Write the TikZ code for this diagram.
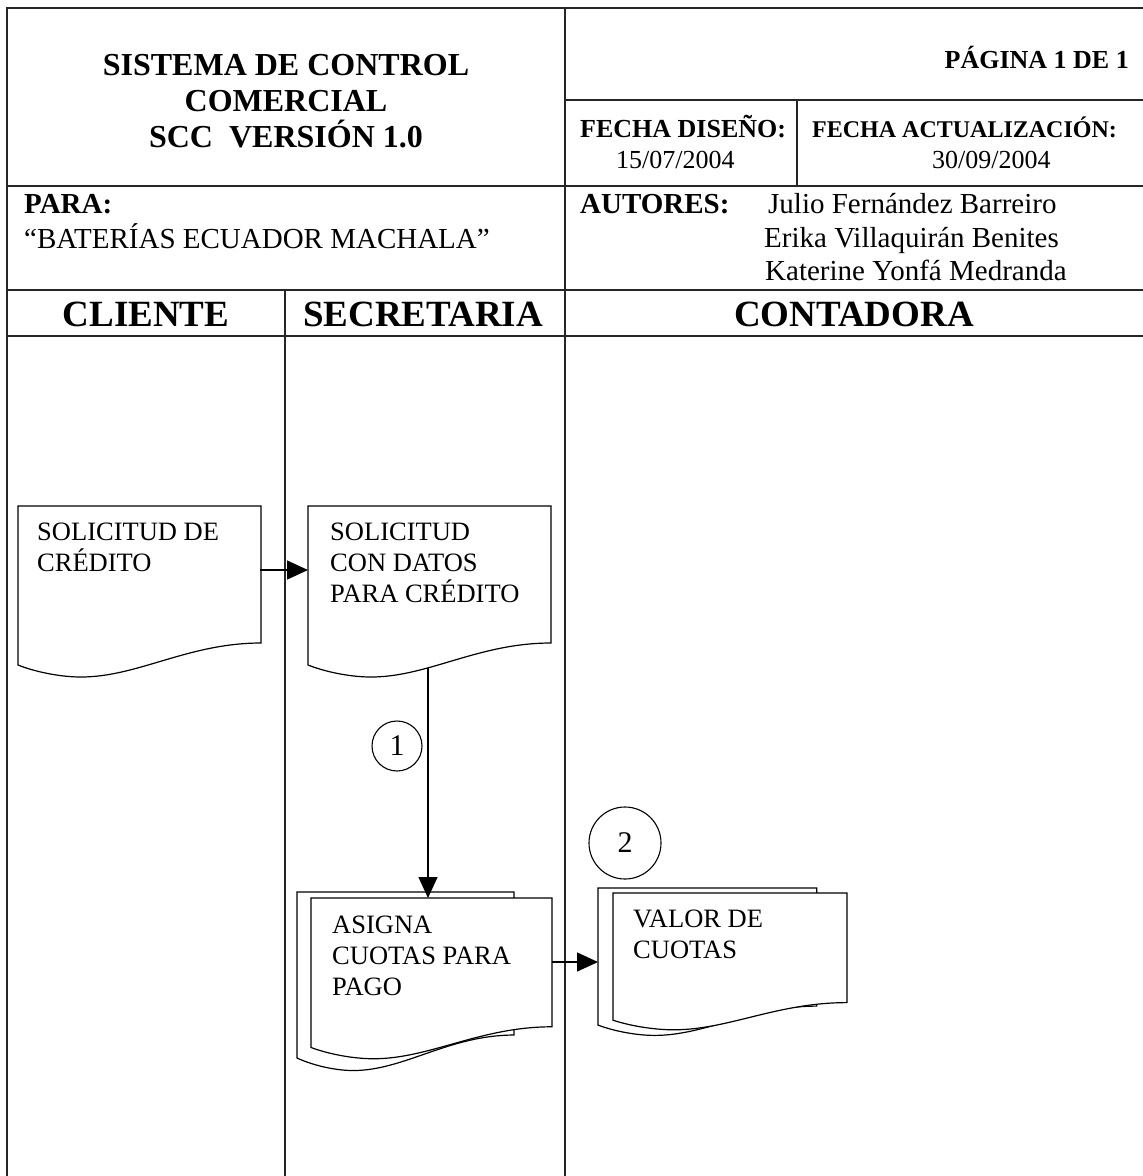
\documentclass[tikz,border=0pt]{standalone}
\usepackage{fontspec}
\setmainfont{Liberation Serif}
\usetikzlibrary{arrows.meta}
\newcommand\docshape[1]{\draw[doc,#1] (0,0) -- (243,0) -- (243,137) .. controls (170,137) and (120,171) .. (63,171) .. controls (40,171) and (15,165) .. (0,159) -- cycle;}
\begin{document}
\begin{tikzpicture}[x=1pt,y=-1pt,
  frame/.style={line width=1.1pt, draw=black!85},
  doc/.style={line width=1.2pt, fill=white, draw=black},
  flow/.style={line width=1.3pt, draw=black, -{Triangle[length=21pt,width=19pt]}},
  txt/.style={inner sep=0pt, anchor=base west},
  ttl/.style={inner sep=0pt, anchor=base, font=\fontsize{32}{36}\selectfont\bfseries},
  lane/.style={inner sep=0pt, anchor=base, font=\fontsize{37}{40}\selectfont\bfseries},
  hdb/.style={txt, font=\fontsize{26}{30}\selectfont\bfseries},
  hdr/.style={txt, font=\fontsize{26}{30}\selectfont},
  big/.style={txt, font=\fontsize{29}{33}\selectfont},
  bigb/.style={txt, font=\fontsize{29}{33}\selectfont\bfseries},
  boxtxt/.style={txt, font=\fontsize{26.5}{31}\selectfont},
  num/.style={circle, draw=black, line width=1.1pt, inner sep=0pt, font=\fontsize{30}{30}\selectfont}]
\fill[white] (0,0) rectangle (1143,1176);
\useasboundingbox (0,0) rectangle (1143,1176);
% frame
\draw[frame] (1143,8) -- (7,8) -- (7,1176);
\draw[frame] (565,8) -- (565,1176);
\draw[frame] (565,100) -- (1143,100);
\draw[frame] (797,100) -- (797,186);
\draw[frame] (7,186) -- (1143,186);
\draw[frame] (7,290) -- (1143,290);
\draw[frame] (7,336) -- (1143,336);
\draw[frame] (285,290) -- (285,1176);
% header texts
\node[ttl] (t1) at (286,75) {SISTEMA DE CONTROL};
\node[ttl] (t2) at (286,111) {COMERCIAL};
\node[ttl] (t3) at (286,147) {SCC\ \ VERSIÓN 1.0};
\node[hdb, anchor=base east] (pag) at (1129,68) {PÁGINA 1 DE 1};
\node[hdb] (fd) at (580,137) {FECHA DISEÑO:};
\node[hdr] (fdv) at (616,168) {15/07/2004};
\node[txt, font=\fontsize{24}{28}\selectfont\bfseries] (fa) at (812,137) {FECHA ACTUALIZACIÓN:};
\node[hdr] (fav) at (932,168) {30/09/2004};
\node[bigb] (para) at (24,213) {PARA:};
\node[big] (parav) at (24,248) {“BATERÍAS ECUADOR MACHALA”};
\node[bigb] (aut) at (580,213) {AUTORES:};
\node[big] (a1) at (768,213) {Julio Fernández Barreiro};
\node[big] (a2) at (764,247) {Erika Villaquirán Benites};
\node[big] (a3) at (765,280) {Katerine Yonfá Medranda};
\node[lane] (l1) at (146,326) {CLIENTE};
\node[lane] (l2) at (423,326) {SECRETARIA};
\node[lane] (l3) at (854,326) {CONTADORA};
% documents
\docshape{shift={(18,506)}}
\docshape{shift={(308,506)}}
\docshape{shift={(297,892)},xscale=.893,yscale=1.044}
\docshape{shift={(311,898)},xscale=.992,yscale=.94}
\docshape{shift={(598,888)},xscale=.9,yscale=.862}
\docshape{shift={(613,893)},xscale=.963,yscale=.8}
\node[boxtxt] (d1) at (37,540) {\parbox[t]{220pt}{\raggedright SOLICITUD DE\\CRÉDITO}};
\node[boxtxt] (d2) at (330,540) {\parbox[t]{220pt}{\raggedright SOLICITUD\\CON DATOS\\PARA CRÉDITO}};
\node[boxtxt] (d3) at (332,933) {\parbox[t]{220pt}{\raggedright ASIGNA\\CUOTAS PARA\\PAGO}};
\node[boxtxt] (d4) at (633,927) {\parbox[t]{220pt}{\raggedright VALOR DE\\CUOTAS}};
% connectors
\coordinate (d1out) at (260,570);
\coordinate (d2in) at (308,570);
\coordinate (d2bot) at (428,668);
\coordinate (d3top) at (428,898);
\coordinate (d3out) at (552,962);
\coordinate (d4in) at (598,962);
\draw[flow] (d1out) -- (d2in);
\draw[flow] (d2bot) -- (d3top);
\draw[flow] (d3out) -- (d4in);
% numbered circles
\node[num, minimum size=50pt] (c1) at (397,746) {1};
\node[num, minimum size=72pt] (c2) at (625,843) {2};
\end{tikzpicture}
\end{document}
